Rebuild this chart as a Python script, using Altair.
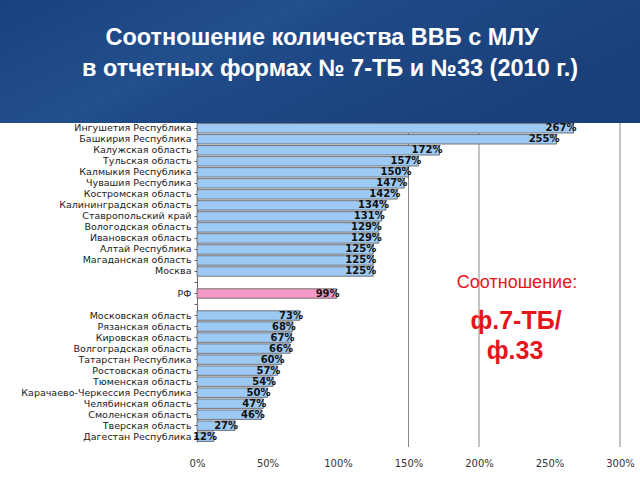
import altair as alt
import pandas as pd

regions = [
    "Ингушетия Республика", "Башкирия Республика", "Калужская область",
    "Тульская область", "Калмыкия Республика", "Чувашия Республика",
    "Костромская область", "Калининградская область", "Ставропольский край",
    "Вологодская область", "Ивановская область", "Алтай Республика",
    "Магаданская область", "Москва", " ", "РФ", "  ",
    "Московская область", "Рязанская область", "Кировская область",
    "Волгоградская область", "Татарстан Республика", "Ростовская область",
    "Тюменская область", "Карачаево-Черкессия Республика", "Челябинская область",
    "Смоленская область", "Тверская область", "Дагестан Республика",
]
values = [
    267, 255, 172, 157, 150, 147, 142, 134, 131, 129, 129, 125, 125, 125,
    None, 99, None,
    73, 68, 67, 66, 60, 57, 54, 50, 47, 46, 27, 12,
]
kinds = ["region"] * 14 + ["blank", "rf", "blank"] + ["region"] * 12

x_ticks = [0, 50, 100, 150, 200, 250, 300]
grid_at = [150, 200, 300]

title_lines = ["Соотношение количества ВВБ с МЛУ", "в отчетных формах № 7-ТБ и №33 (2010 г.)"]

df = pd.DataFrame({"region": regions, "value": values, "kind": kinds})
df["label"] = [("" if pd.isna(v) else f"{int(v)}%") for v in df["value"]]
bars_df = df[df["kind"] != "blank"]

W, H = 423, 319
FONT = "Liberation Sans"

y_enc = alt.Y(
    "region:N", sort=regions,
    scale=alt.Scale(domain=regions, paddingInner=0.14, paddingOuter=0.05),
    axis=alt.Axis(title=None, labelFontSize=9.5, labelColor="#222", labelFont="DejaVu Sans",
                  domainColor="#666", tickColor="#666", tickSize=3, labelPadding=3,
                  labelLimit=200),
)
x_scale = alt.Scale(domain=[0, 300], nice=False)

header = alt.Chart(pd.DataFrame({"a": [0]})).mark_rect(
    fill=alt.LinearGradient(
        gradient="linear", x1=0, y1=0, x2=1, y2=0.4,
        stops=[alt.GradientStop(offset=0, color="#1a4180"),
               alt.GradientStop(offset=0.42, color="#234f8d"),
               alt.GradientStop(offset=0.5, color="#1f4a88"),
               alt.GradientStop(offset=1, color="#1a4079")],
    )
).encode(x=alt.value(-197), x2=alt.value(443), y=alt.value(-123), y2=alt.value(0))

title1 = alt.Chart(pd.DataFrame({"t": [title_lines[0]]})).mark_text(
    fontSize=23.5, fontWeight="bold", color="white", font=FONT, align="center", baseline="middle"
).encode(x=alt.value(125), y=alt.value(-85), text="t:N")
title2 = alt.Chart(pd.DataFrame({"t": [title_lines[1]]})).mark_text(
    fontSize=23.5, fontWeight="bold", color="white", font=FONT, align="center", baseline="middle"
).encode(x=alt.value(133), y=alt.value(-54), text="t:N")

grid = alt.Chart(pd.DataFrame({"g": grid_at})).mark_rule(color="#888", strokeWidth=1).encode(
    x=alt.X("g:Q", scale=x_scale), y=alt.value(0), y2=alt.value(H + 5)
)

bars = alt.Chart(bars_df).mark_bar(stroke="#5a5a5a", strokeWidth=0.8).encode(
    x=alt.X("value:Q", scale=x_scale,
            axis=alt.Axis(values=x_ticks, labelExpr="datum.value + '%'", grid=False,
                          domain=False, ticks=False, labelPadding=16, labelFontSize=10,
                          labelColor="#333", labelFont="DejaVu Sans", labelFlush=False,
                          title=None)),
    y=y_enc,
    color=alt.Color("kind:N", scale=alt.Scale(domain=["region", "rf"],
                                              range=["#9dc9f5", "#f49ac8"]), legend=None),
)

labels = alt.Chart(bars_df).mark_text(
    align="right", baseline="middle", dx=3, fontSize=10, fontWeight="bold",
    font="DejaVu Sans", color="#111"
).encode(x=alt.X("value:Q", scale=x_scale), y=y_enc, text="label:N")

note1 = alt.Chart(pd.DataFrame({"t": ["Соотношение:"]})).mark_text(
    fontSize=18, color="#e8141b", font=FONT, align="center", baseline="middle"
).encode(x=alt.value(320), y=alt.value(160), text="t:N")
note2 = alt.Chart(pd.DataFrame({"t": ["ф.7-ТБ/"]})).mark_text(
    fontSize=25, fontWeight="bold", color="#e8141b", font=FONT, align="center", baseline="middle"
).encode(x=alt.value(319), y=alt.value(198), text="t:N")
note3 = alt.Chart(pd.DataFrame({"t": ["ф.33"]})).mark_text(
    fontSize=25, fontWeight="bold", color="#e8141b", font=FONT, align="center", baseline="middle"
).encode(x=alt.value(318), y=alt.value(228), text="t:N")

chart = alt.layer(header, title1, title2, grid, bars, labels, note1, note2, note3).properties(
    width=W, height=H,
    autosize=alt.AutoSizeParams(type="none"),
    padding={"left": 197, "top": 123, "right": 20, "bottom": 38},
    background="white",
).configure_view(stroke=None)

chart.save("out.html", embed_options={"renderer": "svg", "actions": False})
